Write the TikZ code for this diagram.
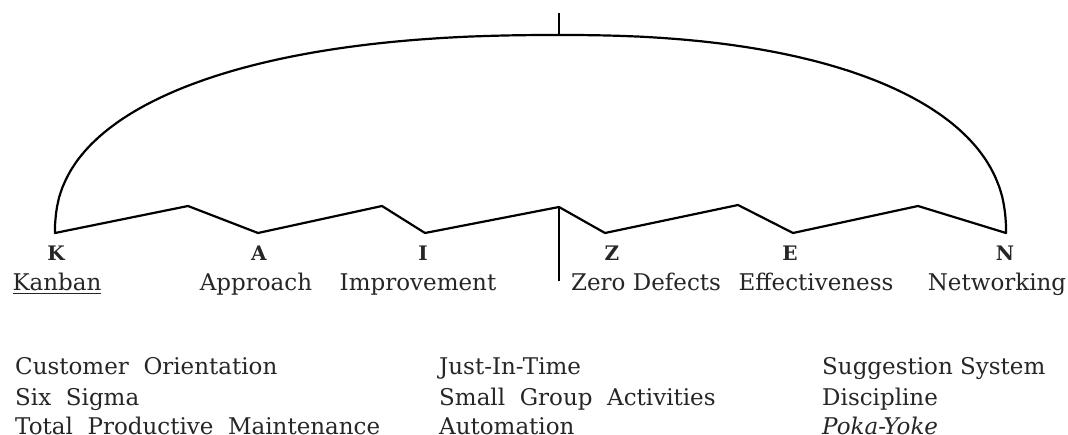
\documentclass[tikz,border=0pt]{standalone}
\usepackage{fontspec}
\setmainfont{DejaVu Serif}
\definecolor{txt}{HTML}{262626}
\begin{document}
\begin{tikzpicture}[x=1pt,y=-1pt,
  line/.style={draw=black, line width=2.2pt, line join=round, line cap=round},
  pole/.style={draw=black, line width=2.8pt},
  letter/.style={font=\fontsize{20}{22}\selectfont\bfseries, inner sep=0pt, anchor=base, text=txt},
  word/.style={font=\fontsize{23}{26}\selectfont, inner sep=0pt, anchor=base, text=txt},
  item/.style={font=\fontsize{23}{26}\selectfont, inner sep=0pt, anchor=base west, text=txt}]
\useasboundingbox[fill=white] (0,0) rectangle (1068,435);
% zigzag rim
\coordinate (K) at (55,233);
\coordinate (r1) at (188,206);
\coordinate (A) at (258,233);
\coordinate (r2) at (382,206);
\coordinate (I) at (425,233);
\coordinate (poleTop) at (559,207);
\coordinate (Z) at (605,233);
\coordinate (r3) at (738,205);
\coordinate (E) at (793,233);
\coordinate (r4) at (918,206);
\coordinate (N) at (1006,233);
\coordinate (tip) at (559,13);
\coordinate (arcTop) at (559,35);
\coordinate (poleBot) at (559,281);
% canopy
\draw[line] (K) -- plot[domain=0.2:89.8, samples=120, variable=\t]
   ({559-504*pow(cos(\t),0.87)}, {233-198*pow(sin(\t),0.87)})
   -- (arcTop) -- plot[domain=89.8:0.2, samples=120, variable=\t]
   ({559+447*pow(cos(\t),0.87)}, {233-198*pow(sin(\t),0.87)}) -- (N);
\draw[line] (K) -- (r1) -- (A) -- (r2) -- (I) -- (poleTop) -- (Z) -- (r3) -- (E) -- (r4) -- (N);
% pole
\draw[pole] (tip) -- (arcTop);
\draw[pole] (poleTop) -- (poleBot);
% letters
\node[letter] (lK) at (56,261) {K};
\node[letter] (lA) at (259,261) {A};
\node[letter] (lI) at (423,261) {I};
\node[letter] (lZ) at (612,261) {Z};
\node[letter] (lE) at (790,261) {E};
\node[letter] (lN) at (1005,261) {N};
% words
\node[word] (wK) at (57,291) {\underline{Kanban}};
\node[word] (wA) at (256,291) {Approach};
\node[word] (wI) at (418,291) {Improvement};
\node[word] (wZ) at (646,291) {Zero Defects};
\node[word] (wE) at (816,291) {Effectiveness};
\node[word] (wN) at (997,291) {Networking};
% lists
\node[item] (c1a) at (15,375) {Customer\ \ Orientation};
\node[item] (c1b) at (15,405) {Six\ \ Sigma};
\node[item] (c1c) at (15,434) {Total\ \ Productive\ \ Maintenance};
\node[item] (c2a) at (439,375) {Just-In-Time};
\node[item] (c2b) at (439,405) {Small\ \ Group\ \ Activities};
\node[item] (c2c) at (439,434) {Automation};
\node[item] (c3a) at (822,375) {Suggestion System};
\node[item] (c3b) at (822,405) {Discipline};
\node[item] (c3c) at (822,434) {\itshape Poka-Yoke};
\end{tikzpicture}
\end{document}
